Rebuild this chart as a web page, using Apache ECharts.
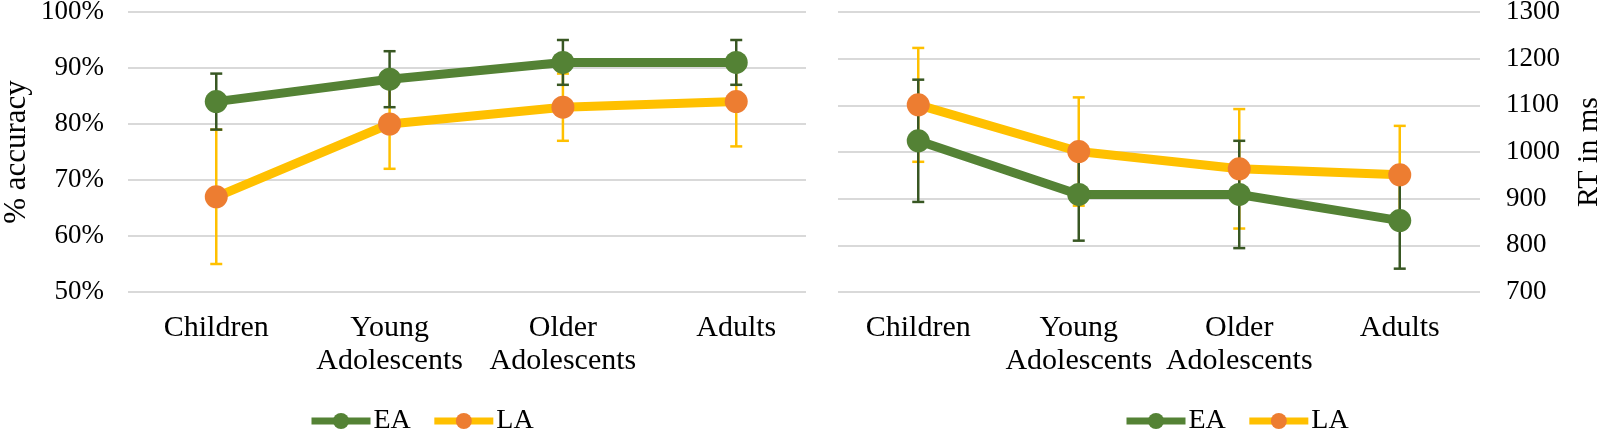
<!DOCTYPE html>
<html>
<head>
<meta charset="utf-8">
<script src="https://cdn.jsdelivr.net/npm/echarts@6/dist/echarts.min.js"></script>
<style>
html,body{margin:0;padding:0;background:#fff;}
#c{width:1600px;height:433px;}
</style>
</head>
<body>
<div id="c"></div>
<script>
const categories = ['Children', 'Young\nAdolescents', 'Older\nAdolescents', 'Adults'];
const seriesNames = ['EA', 'LA'];
// accuracy (%)
const accEA = [84, 88, 91, 91];
const accEAErr = [5, 5, 4, 4];
const accLA = [67, 80, 83, 84];
const accLAErr = [12, 8, 6, 8];
// reaction time (ms)
const rtEA = [1024, 909, 909, 853];
const rtEAErr = [131, 99, 115, 103];
const rtLA = [1101, 1001, 964, 951];
const rtLAErr = [122, 116, 128, 105];

const FONT = '"Liberation Serif", "Times New Roman", serif';
const EA_COLOR = '#548235', EA_ERR = '#385723';
const LA_COLOR = '#FFC000', LA_MARK = '#ED7D31', LA_ERR = '#FFC000';
const GRID_COLOR = '#D9D9D9';

function errData(vals, errs) {
  return vals.map((v, i) => [i, v - errs[i], v + errs[i]]);
}
function errSeries(name, vals, errs, color, xi, yi) {
  return {
    type: 'custom', name: name + ' err', xAxisIndex: xi, yAxisIndex: yi, z: 1,
    silent: true, clip: false,
    encode: {x: 0, y: [1, 2]},
    data: errData(vals, errs),
    renderItem: function (params, api) {
      const x = api.value(0);
      const lo = api.coord([x, api.value(1)]);
      const hi = api.coord([x, api.value(2)]);
      const w = 6;
      const st = {stroke: color, lineWidth: 2.5};
      return {type: 'group', children: [
        {type: 'line', shape: {x1: hi[0], y1: hi[1], x2: lo[0], y2: lo[1]}, style: st},
        {type: 'line', shape: {x1: hi[0] - w, y1: hi[1], x2: hi[0] + w, y2: hi[1]}, style: st},
        {type: 'line', shape: {x1: lo[0] - w, y1: lo[1], x2: lo[0] + w, y2: lo[1]}, style: st}
      ]};
    }
  };
}
function lineSeries(name, vals, lineColor, markColor, xi, yi) {
  return {
    type: 'line', name: name, xAxisIndex: xi, yAxisIndex: yi, z: 3,
    data: vals, symbol: 'circle', symbolSize: 23,
    lineStyle: {color: lineColor, width: 9},
    itemStyle: {color: markColor},
    emphasis: {disabled: true}
  };
}

const catAxisBase = {
  type: 'category', data: categories, boundaryGap: true,
  axisLine: {show: false}, axisTick: {show: false},
  axisLabel: {fontFamily: FONT, fontSize: 30, lineHeight: 33, color: '#000', margin: 20, interval: 0},
  splitLine: {show: false}
};

const legendBase = {
  top: 402, itemWidth: 59, itemHeight: 20, itemGap: 20,
  data: seriesNames, selectedMode: false,
  lineStyle: {width: 7},
  textStyle: {fontFamily: FONT, fontSize: 28, color: '#000', padding: [0, 0, 0, -2]}
};

const gridBase = {top: 12, height: 280, containLabel: false, outerBoundsMode: 'none'};

const option = {
  animation: false,
  backgroundColor: '#fff',
  grid: [
    Object.assign({left: 128, width: 678}, gridBase),      // left gridlines
    Object.assign({left: 129.6, width: 693.3}, gridBase),  // left data
    Object.assign({left: 838, width: 642}, gridBase)       // right chart
  ],
  xAxis: [
    {type: 'category', gridIndex: 0, data: categories, show: false},
    Object.assign({gridIndex: 1}, catAxisBase),
    Object.assign({gridIndex: 2}, catAxisBase)
  ],
  yAxis: [
    {
      type: 'value', gridIndex: 0, min: 50, max: 100, interval: 10,
      axisLine: {show: false}, axisTick: {show: false},
      axisLabel: {formatter: '{value}%', fontFamily: FONT, fontSize: 27, color: '#000', margin: 24},
      splitLine: {lineStyle: {color: GRID_COLOR, width: 2}},
      name: '% accuracy', nameLocation: 'middle', nameRotate: 90, nameGap: 96,
      nameTextStyle: {fontFamily: FONT, fontSize: 31, color: '#000'}
    },
    {type: 'value', gridIndex: 1, min: 50, max: 100, interval: 10, show: false, splitLine: {show: false}},
    {
      type: 'value', gridIndex: 2, position: 'right', min: 700, max: 1300, interval: 100,
      axisLine: {show: false}, axisTick: {show: false},
      axisLabel: {formatter: function (v) { return String(v); }, fontFamily: FONT, fontSize: 27, color: '#000', margin: 26},
      splitLine: {lineStyle: {color: GRID_COLOR, width: 2}},
      name: 'RT in ms', nameLocation: 'middle', nameRotate: 90, nameGap: 94,
      nameTextStyle: {fontFamily: FONT, fontSize: 30, color: '#000'}
    }
  ],
  legend: [
    Object.assign({left: 303}, legendBase),
    Object.assign({left: 1118}, legendBase)
  ],
  series: [
    errSeries('acc LA', accLA, accLAErr, LA_ERR, 1, 1),
    errSeries('acc EA', accEA, accEAErr, EA_ERR, 1, 1),
    lineSeries('EA', accEA, EA_COLOR, EA_COLOR, 1, 1),
    lineSeries('LA', accLA, LA_COLOR, LA_MARK, 1, 1),
    errSeries('rt LA', rtLA, rtLAErr, LA_ERR, 2, 2),
    errSeries('rt EA', rtEA, rtEAErr, EA_ERR, 2, 2),
    lineSeries('EA', rtEA, EA_COLOR, EA_COLOR, 2, 2),
    lineSeries('LA', rtLA, LA_COLOR, LA_MARK, 2, 2)
  ]
};

const chart = echarts.init(document.getElementById('c'), null, {renderer: 'canvas'});
chart.setOption(option);
</script>
</body>
</html>
